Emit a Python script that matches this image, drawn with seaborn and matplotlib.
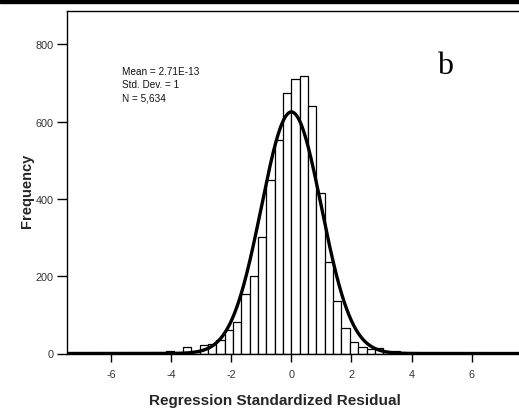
import numpy as np
import pandas as pd
import matplotlib
matplotlib.use("Agg")
import matplotlib.pyplot as plt
import seaborn as sns
from matplotlib.patches import Rectangle

# ---- data ----
bin_width = 0.278
bin_index = list(range(-22, 13))
counts = [2, 0, 0, 1, 0, 0, 1, 6, 2, 16, 6, 21, 25, 36, 61, 81, 155, 200, 302, 449, 552, 673,
          711, 718, 640, 416, 237, 136, 65, 31, 16, 12, 14, 4, 7]
mean_val = 0.0
sd_val = 1.0
n_val = 5634
stats_lines = ["Mean = 2.71E-13", "Std. Dev. = 1", "N = 5,634"]
x_ticks = [-6, -4, -2, 0, 2, 4, 6]
y_ticks = [0, 200, 400, 600, 800]
panel_letter = "b"

lo = bin_index[0] * bin_width
hi = (bin_index[-1] + 1) * bin_width
centers = [(k + 0.5) * bin_width for k in bin_index]
df = pd.DataFrame({"x": centers, "w": counts})

sns.set_theme(style="white")
plt.rcParams["font.family"] = ["Liberation Sans", "DejaVu Sans"]
plt.rcParams["axes.unicode_minus"] = False

fig = plt.figure(figsize=(5.19, 4.14), dpi=100)
ax = fig.add_axes([67 / 519, (414 - 354.5) / 414, 1.0 - 67 / 519 + 0.01, (354.5 - 12) / 414])

sns.histplot(data=df, x="x", weights="w", binwidth=bin_width, binrange=(lo, hi), ax=ax,
             stat="count", color="white", edgecolor="black", linewidth=0.9, alpha=1.0)

xs = np.linspace(-7.6, 7.8, 600)
ys = n_val * bin_width * np.exp(-0.5 * ((xs - mean_val) / sd_val) ** 2) / (sd_val * np.sqrt(2 * np.pi))
sns.lineplot(x=xs, y=ys, ax=ax, color="black", linewidth=2.4)

ax.set_xlim(-7.47, 7.75)
ax.set_ylim(0, 886)
ax.set_xticks(x_ticks)
ax.set_yticks(y_ticks)
ax.tick_params(axis="both", direction="out", width=1, color="black",
               labelsize=7.8, labelcolor="#333333", bottom=True, left=True)
ax.tick_params(axis="x", length=6, pad=5)
ax.tick_params(axis="y", length=7, pad=2.5)
for s in ax.spines.values():
    s.set_color("black")
    s.set_linewidth(1.0)

ax.set_xlabel("Regression Standardized Residual", fontsize=11, fontweight="bold")
ax.set_ylabel("Frequency", fontsize=10.5, fontweight="bold")
ax.xaxis.set_label_coords(0.454, -0.136)
ax.yaxis.set_label_coords(-0.087, 0.477)
ax.xaxis.label.set_va("center")
ax.yaxis.label.set_va("center")

ax.text(0.12, 0.84, "\n".join(stats_lines), transform=ax.transAxes, fontsize=7.2,
        va="top", ha="left", linespacing=1.4, color="#111111")
ax.text(0.81, 0.818, panel_letter, transform=ax.transAxes, fontsize=23,
        family=["Liberation Serif", "DejaVu Serif"], va="baseline", ha="left", color="black")

fig.patches.append(Rectangle((0, 1 - 4 / 414), 1, 4 / 414, transform=fig.transFigure,
                             color="black", zorder=10))

fig.savefig("out.png", dpi=100)
